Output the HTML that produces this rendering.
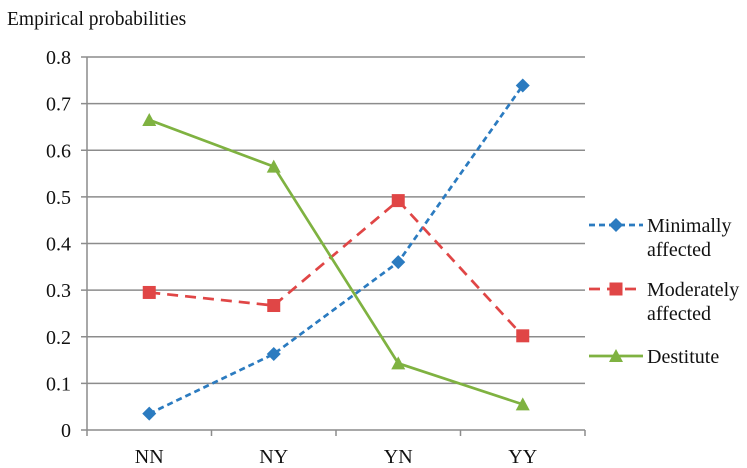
<!DOCTYPE html>
<html><head><meta charset="utf-8"><style>
body{margin:0;background:#fff}
svg{display:block}
svg text{font-family:"Liberation Serif","Times New Roman",Times,serif}
</style></head><body>
<svg id="chart" width="747" height="468" viewBox="0 0 747 468" font-family="Liberation Serif, Times New Roman, serif">
<text x="7" y="25" font-size="19.5" fill="#111">Empirical probabilities</text>
<g id="grid"></g><g id="axes"></g><g id="series"></g><g id="legend"></g>
</svg>
<script>
const categories=["NN","NY","YN","YY"];
const minimally=[0.035,0.163,0.36,0.739];
const moderately=[0.295,0.267,0.492,0.202];
const destitute=[0.665,0.565,0.143,0.055];
const yTicks=[0,0.1,0.2,0.3,0.4,0.5,0.6,0.7,0.8];
const seriesNames=["Minimally affected","Moderately affected","Destitute"];

const NS="http://www.w3.org/2000/svg";
const X0=87,X1=585,Y0=430,Y1=57;
const band=(X1-X0)/categories.length;
const xs=i=>X0+band*(i+0.5);
const ys=v=>Y0-(v/0.8)*(Y0-Y1);
function mk(t,a,p){const e=document.createElementNS(NS,t);for(const k in a)e.setAttribute(k,a[k]);p.appendChild(e);return e;}
const grid=document.getElementById('grid'),axes=document.getElementById('axes'),ser=document.getElementById('series'),leg=document.getElementById('legend');
yTicks.forEach(v=>{
  const y=ys(v);
  if(v>0){const g=mk('line',{x1:X0,x2:X1,y1:y,y2:y,stroke:'#8c8c8c','stroke-width':1.5},grid);
  
  }
  mk('line',{x1:X0-6,x2:X0,y1:y,y2:y,stroke:'#8c8c8c','stroke-width':1.5},axes);
  const t=mk('text',{x:71,y:y+7,'text-anchor':'end','font-size':20,fill:'#111'},axes);
  t.textContent=v===0?"0":v.toFixed(1);
  
  
});
mk('line',{x1:X0,x2:X0,y1:Y1,y2:Y0,stroke:'#8c8c8c','stroke-width':1.5},axes);
mk('line',{x1:X0,x2:X1,y1:Y0,y2:Y0,stroke:'#8c8c8c','stroke-width':1.5},axes);
for(let i=0;i<=categories.length;i++){const x=X0+band*i;mk('line',{x1:x,x2:x,y1:Y0,y2:Y0+6,stroke:'#8c8c8c','stroke-width':1.5},axes);}
categories.forEach((c,i)=>{const t=mk('text',{x:xs(i),y:463,'text-anchor':'middle','font-size':20,fill:'#111'},axes);t.textContent=c;
  
  });

function marker(kind,x,y,color,p){
  if(kind==='d')return mk('polygon',{points:`${x},${y-7} ${x+7},${y} ${x},${y+7} ${x-7},${y}`,fill:color},p);
  if(kind==='s')return mk('rect',{x:x-6.5,y:y-6.5,width:13,height:13,fill:color},p);
  return mk('polygon',{points:`${x},${y-7} ${x+7},${y+6} ${x-7},${y+6}`,fill:color},p);
}
const defs=[[minimally,'#2b7bc0','6,4','d'],[moderately,'#e04646','11,7','s'],[destitute,'#7fb241','','t']];
defs.forEach(([vals,color,dash,kind],si)=>{
  const g=mk('g',{},ser);
  
  
  const pl=mk('polyline',{points:vals.map((v,i)=>xs(i)+','+ys(v)).join(' '),fill:'none',stroke:color,'stroke-width':2.7,'stroke-dasharray':dash},g);
  
  
  vals.forEach((v,i)=>{const m=marker(kind,xs(i),ys(v),color,g);
    
    });
  const ly=[225,289,356][si];
  const lg=mk('g',{},leg);
  
  
  mk('line',{x1:589,x2:643,y1:ly,y2:ly,stroke:color,'stroke-width':2.7,'stroke-dasharray':dash},lg);
  marker(kind,616,ly,color,lg);
  const lines=seriesNames[si].split(' ');
  if(si===2){const t=mk('text',{x:647,y:ly+7,'font-size':20,fill:'#111'},lg);t.textContent=seriesNames[si];}
  else{const t=mk('text',{x:647,y:ly+7,'font-size':20,fill:'#111'},lg);t.textContent=lines[0];
   const t2=mk('text',{x:647,y:ly+31,'font-size':20,fill:'#111'},lg);t2.textContent=lines[1];}
});
</script>
</body></html>
